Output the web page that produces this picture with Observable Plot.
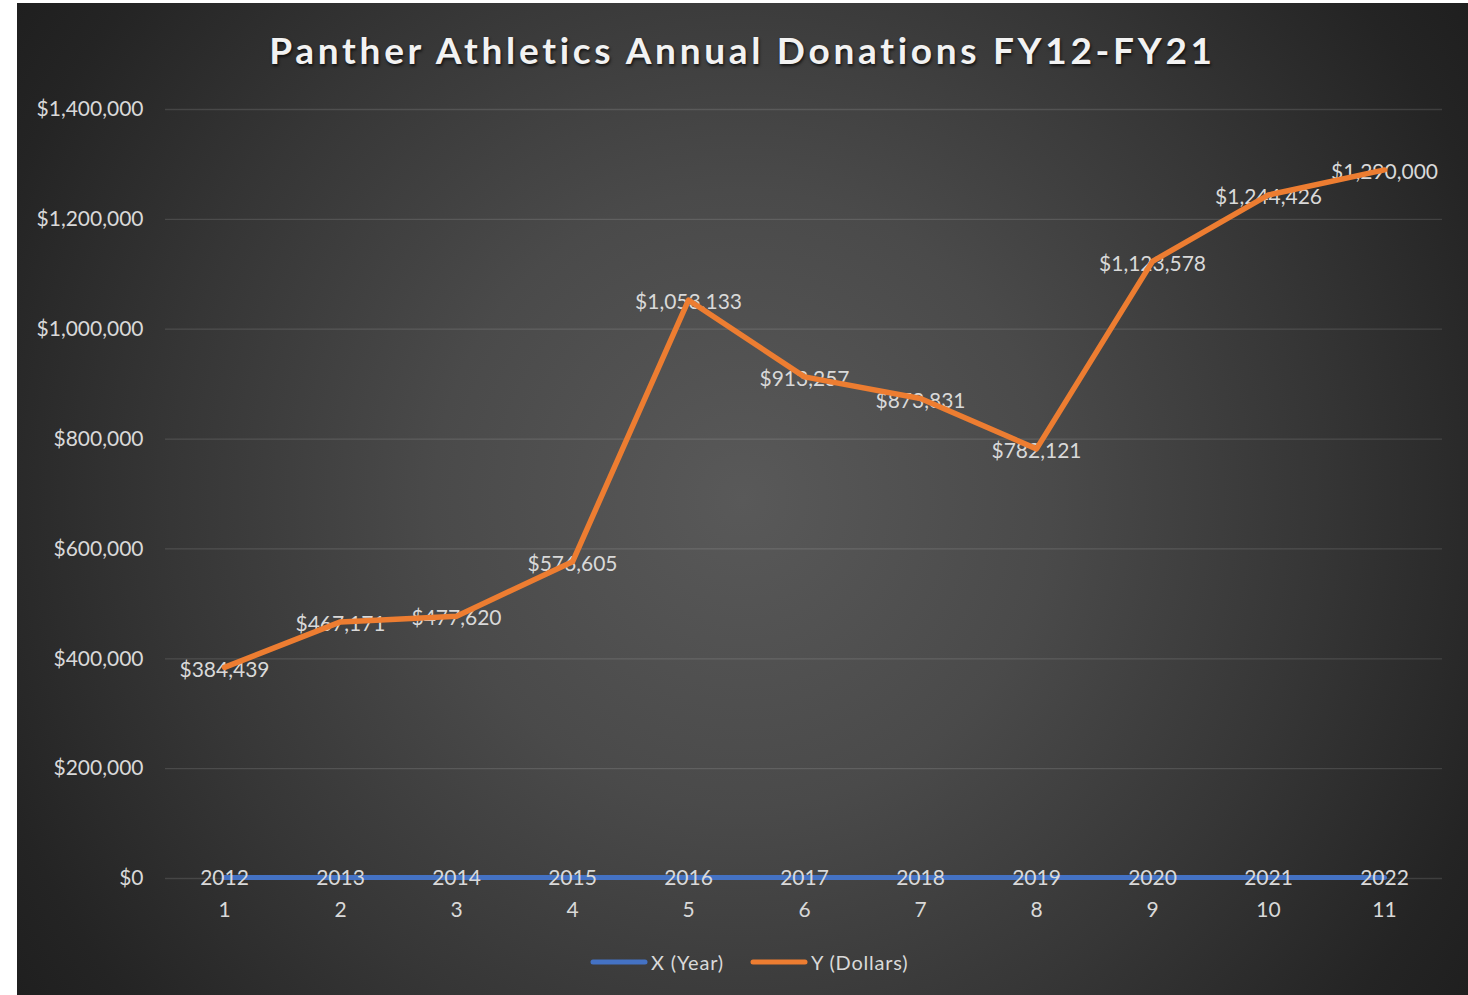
<!DOCTYPE html>
<html>
<head>
<meta charset="utf-8">
<script src="https://cdn.jsdelivr.net/npm/d3@7"></script>
<script src="https://cdn.jsdelivr.net/npm/@observablehq/plot@0.6"></script>
<style>
  html, body { margin: 0; padding: 0; background: #ffffff; }
  body { width: 1468px; height: 995px; position: relative; overflow: hidden; }
  #card {
    position: absolute; left: 17px; top: 3px; width: 1451px; height: 992px;
    background: radial-gradient(ellipse 880px 880px at 50% 50%, #595959 0%, #4a4a4a 35%, #363636 65%, #242424 90%, #1f1f1f 100%);
    font-family: Lato, "Open Sans", sans-serif;
  }
  #title {
    position: absolute; left: 0; width: 100%; top: 24px; text-align: center;
    color: #f2f2f2; font-weight: 700; font-size: 37px; letter-spacing: 3.7px;
    text-shadow: 1px 2px 3px rgba(0,0,0,0.7);
  }
  #chart { position: absolute; left: 0; top: 0; }
  #legend {
    position: absolute; left: 573px; top: 947px; display: flex; align-items: center;
    color: #d9d9d9; font-size: 20px; letter-spacing: 0.8px;
  }
  #legend .item { display: flex; align-items: center; margin-right: 26px; }
  #legend svg { margin-right: 3px; }
</style>
</head>
<body>
<div id="card">
  <div id="chart"></div>
  <div id="title">Panther Athletics Annual Donations FY12-FY21</div>
  <div id="legend"></div>
</div>
<script>
const categories = [1, 2, 3, 4, 5, 6, 7, 8, 9, 10, 11];
const yearValues = [2012, 2013, 2014, 2015, 2016, 2017, 2018, 2019, 2020, 2021, 2022];
const dollarValues = [384439, 467171, 477620, 576605, 1053133, 913257, 873831, 782121, 1123578, 1244426, 1290000];
const yTicks = [0, 200000, 400000, 600000, 800000, 1000000, 1200000, 1400000];
const seriesNames = ["X (Year)", "Y (Dollars)"];
const seriesColors = ["#4472c4", "#ed7d31"];

const rows = categories.map((c, i) => ({cat: c, year: yearValues[i], dollars: dollarValues[i]}));
const fmt = d3.format(",");
const money = v => "$" + fmt(v);

const chart = Plot.plot({
  width: 1451,
  height: 992,
  marginLeft: 148,
  marginRight: 26,
  marginTop: 106,
  marginBottom: 117,
  style: {background: "transparent", color: "#d9d9d9", fontFamily: "Lato, 'Open Sans', sans-serif", fontSize: "21px"},
  x: {type: "point", domain: categories, padding: 0.5, axis: null},
  y: {domain: [0, 1400000], axis: null},
  marks: [
    Plot.gridY(yTicks, {stroke: "#ffffff", strokeOpacity: 0.12, strokeWidth: 1.3}),
    Plot.axisY(yTicks, {tickSize: 0, tickPadding: 22, tickFormat: money, fill: "#d9d9d9", fontSize: 21, label: null}),
    Plot.axisX(categories, {tickSize: 0, tickPadding: 24, fill: "#d9d9d9", fontSize: 21, label: null}),
    Plot.line(rows, {x: "cat", y: "year", stroke: seriesColors[0], strokeWidth: 5, strokeLinejoin: "round"}),
    Plot.text(rows, {x: "cat", y: "year", text: d => String(d.year), fill: "#d9d9d9", fontSize: 21, dy: 1}),
    Plot.text(rows, {x: "cat", y: "dollars", text: d => money(d.dollars), fill: "#d9d9d9", fontSize: 21, dy: 2.5}),
    Plot.line(rows, {x: "cat", y: "dollars", stroke: seriesColors[1], strokeWidth: 5.5, strokeLinejoin: "round", strokeLinecap: "round"})
  ]
});
document.getElementById("chart").appendChild(chart);

const legend = document.getElementById("legend");
seriesNames.forEach((name, i) => {
  const item = document.createElement("div");
  item.className = "item";
  item.innerHTML = `<svg width="58" height="10"><line x1="3" y1="5" x2="55" y2="5" stroke="${seriesColors[i]}" stroke-width="5" stroke-linecap="round"/></svg><span>${name}</span>`;
  legend.appendChild(item);
});
</script>
</body>
</html>
